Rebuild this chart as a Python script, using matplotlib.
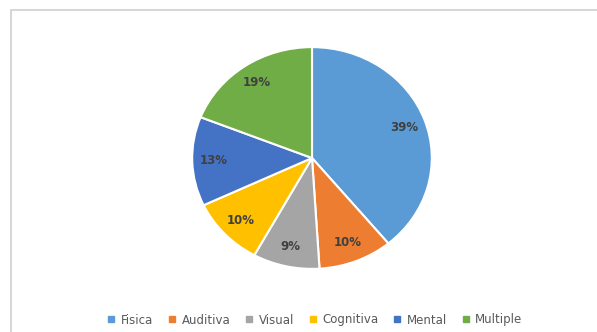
import matplotlib
matplotlib.use("Agg")
import matplotlib.pyplot as plt
from matplotlib.lines import Line2D
from matplotlib.patches import Rectangle

# datos del grafico
categorias = ["Fisica", "Auditiva", "Visual", "Cognitiva", "Mental", "Multiple"]
porcentajes = [39, 10, 9, 10, 13, 19]
colores = ["#5B9BD5", "#ED7D31", "#A5A5A5", "#FFC000", "#4472C4", "#70AD47"]

fig = plt.figure(figsize=(5.97, 3.32), dpi=100)
fig.patch.set_facecolor("white")

# marco del area del grafico (cortado a la derecha y abajo)
fig.patches.append(Rectangle((11 / 597, -0.1), 1.2, 1 - 9.5 / 332 + 0.1,
                             transform=fig.transFigure, fill=False,
                             edgecolor="#D0D0D0", linewidth=1.2))

# la torta del original esta un poco achatada
ax = fig.add_axes([191 / 597, 1 - 270 / 332, 242 / 597, 224 / 332])
wedges, texts, autotexts = ax.pie(
    porcentajes, colors=colores, startangle=90, counterclock=False,
    autopct="%d%%", pctdistance=0.82, radius=1,
    wedgeprops=dict(edgecolor="white", linewidth=1.5),
    textprops=dict(color="#404040", fontsize=8.5, fontweight="semibold"))
ax.set_xlim(-1.01, 1.01)
ax.set_ylim(-1.01, 1.01)
ax.set_aspect("auto")
ax.axis("off")

# leyenda abajo
handles = [Line2D([0], [0], marker="s", linestyle="none", markersize=4,
                  markerfacecolor=c, markeredgecolor=c) for c in colores]
fig.legend(handles, categorias, loc="center", bbox_to_anchor=(0.527, 1 - 320 / 332),
           ncol=6, frameon=False, fontsize=8.5, handlelength=0.8,
           handletextpad=0.4, columnspacing=1.2, labelcolor="#595959")

fig.savefig("out.png", dpi=100)
